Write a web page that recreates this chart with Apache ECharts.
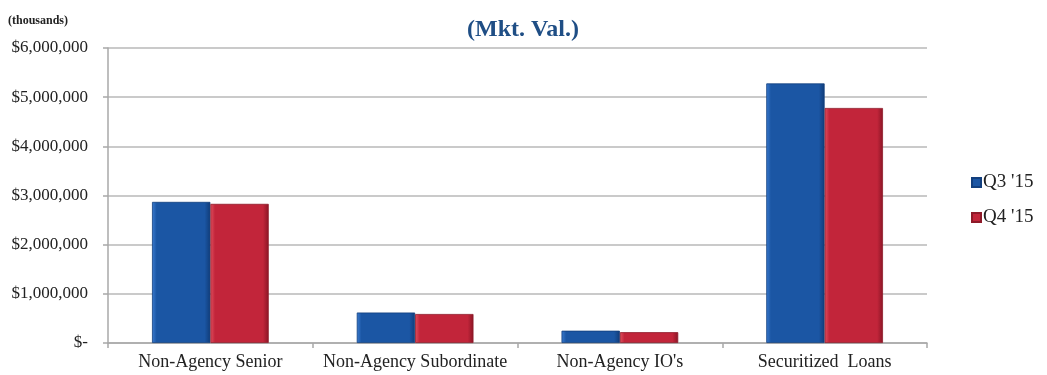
<!DOCTYPE html>
<html>
<head>
<meta charset="utf-8">
<script src="https://cdn.jsdelivr.net/npm/echarts@6/dist/echarts.min.js"></script>
<style>
  html, body { margin: 0; padding: 0; background: #fff; }
  #chart { width: 1047px; height: 375px; }
</style>
</head>
<body>
<div id="chart"></div>
<script>
// Portfolio market value by category, in thousands of dollars
const categories = ['Non-Agency Senior', 'Non-Agency Subordinate', "Non-Agency IO's", 'Securitized  Loans'];
const q3Values = [2870000, 620000, 250000, 5280000];
const q4Values = [2830000, 590000, 220000, 4780000];
const seriesNames = ["Q3 '15", "Q4 '15"];
const yTicks = [0, 1000000, 2000000, 3000000, 4000000, 5000000, 6000000];

const serif = '"Liberation Serif", "DejaVu Serif", serif';

function bevel(light, main, dark) {
  return {
    type: 'linear', x: 0, y: 0, x2: 1, y2: 0,
    colorStops: [
      { offset: 0, color: light },
      { offset: 0.08, color: main },
      { offset: 0.9, color: main },
      { offset: 1, color: dark }
    ]
  };
}

function money(v) {
  if (v === 0) return '$-';
  return '$' + v.toLocaleString('en-US');
}

const chart = echarts.init(document.getElementById('chart'));
chart.setOption({
  animation: false,
  backgroundColor: '#ffffff',
  title: {
    text: '(Mkt. Val.)',
    left: 518,
    textAlign: 'center',
    top: 13,
    textStyle: { fontFamily: serif, fontSize: 24, fontWeight: 'bold', color: '#1f4e85' }
  },
  graphic: [{
    type: 'text',
    left: 8,
    top: 15,
    style: { text: '(thousands)', fontFamily: serif, fontSize: 12, fontWeight: 'bold', fill: '#222' }
  }],
  legend: {
    orient: 'vertical',
    left: 966,
    top: 168,
    itemWidth: 9,
    itemHeight: 9,
    itemGap: 16,
    icon: 'rect',
    data: seriesNames,
    textStyle: { fontFamily: serif, fontSize: 19, color: '#222', padding: [0, 0, 0, -3] }
  },
  grid: { left: 108, right: 120, top: 48, bottom: 32 },
  xAxis: {
    type: 'category',
    data: categories,
    axisLine: { lineStyle: { color: '#a8a8a8', width: 1.5 } },
    axisTick: { show: true, interval: 0, length: 5, lineStyle: { color: '#a8a8a8', width: 1.5 } },
    axisLabel: { interval: 0, hideOverlap: false, fontFamily: serif, fontSize: 18, color: '#222', margin: 10 }
  },
  yAxis: {
    type: 'value',
    min: yTicks[0],
    max: yTicks[yTicks.length - 1],
    interval: yTicks[1] - yTicks[0],
    axisLine: { show: true, lineStyle: { color: '#a8a8a8', width: 1.5 } },
    axisTick: { show: true, length: 5, lineStyle: { color: '#a8a8a8', width: 1.5 } },
    splitLine: { lineStyle: { color: '#b8b8b8', width: 1.5 } },
    axisLabel: { fontFamily: serif, fontSize: 17, color: '#222', margin: 20, formatter: money }
  },
  series: [
    {
      name: seriesNames[0],
      type: 'bar',
      data: q3Values,
      barGap: '0%',
      barCategoryGap: '43%',
      itemStyle: {
        color: bevel('#3a7bd0', '#1b56a4', '#103c78'),
        borderColor: '#123f7e',
        borderWidth: 0.8
      }
    },
    {
      name: seriesNames[1],
      type: 'bar',
      data: q4Values,
      barGap: '0%',
      barCategoryGap: '43%',
      itemStyle: {
        color: bevel('#e0505f', '#c2253a', '#8a1525'),
        borderColor: '#8e1a29',
        borderWidth: 0.8
      }
    }
  ]
});
</script>
</body>
</html>
